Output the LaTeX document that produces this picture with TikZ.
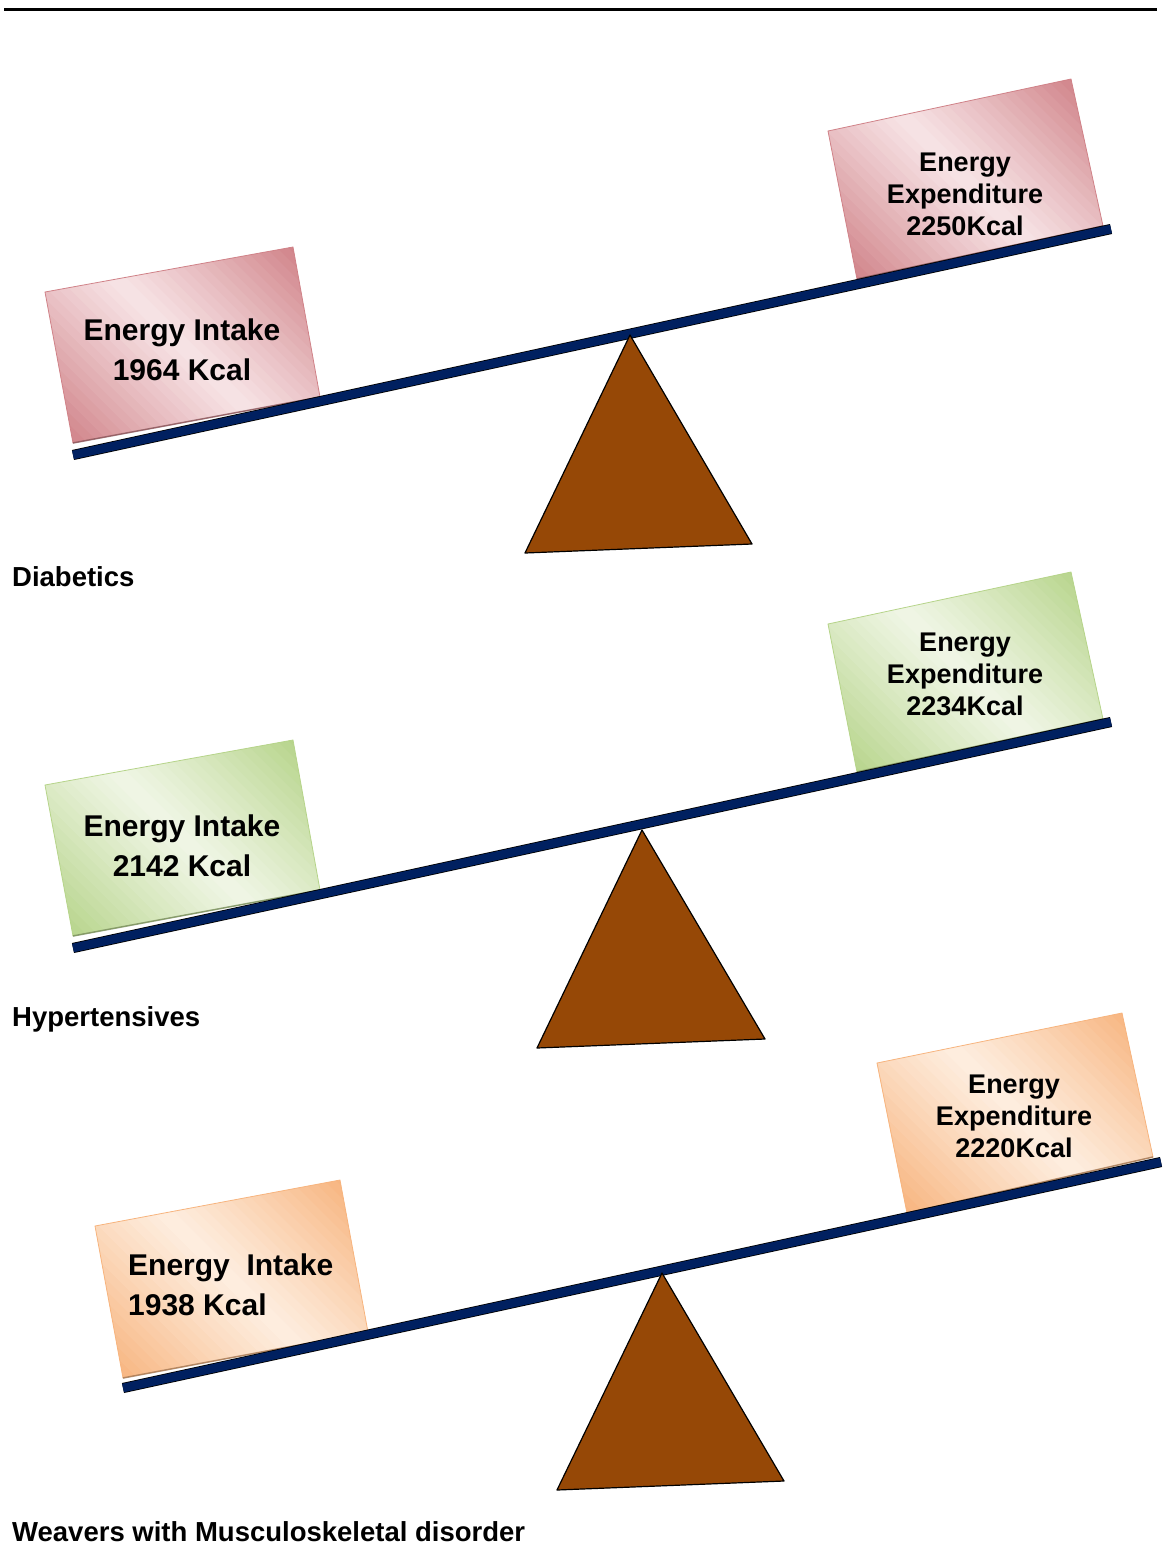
\documentclass[tikz,border=0pt]{standalone}
\usepackage{fontspec}
\setmainfont{Liberation Sans}
\usetikzlibrary{calc}

\definecolor{beamblue}{RGB}{0,32,96}
\definecolor{fulcrumbrown}{RGB}{150,72,6}
\definecolor{pinkdark}{RGB}{208,130,136}
\definecolor{pinklight}{RGB}{247,228,230}
\definecolor{greendark}{RGB}{182,212,138}
\definecolor{greenlight}{RGB}{240,246,230}
\definecolor{orangedark}{RGB}{247,180,126}
\definecolor{orangelight}{RGB}{254,238,224}

% box on the beam: #1 dark, #2 light, #3--#6 corners (tl, tr, br, bl)
\newcommand\gradbox[6]{%
  \begin{scope}
    \clip #3 -- #4 -- #5 -- #6 -- cycle;
    \coordinate (mid) at ($#3!0.5!#5$);
    \foreach \t in {-180,-172,...,180}{
      \pgfmathsetmacro\m{min(100,100*(abs(\t)/150)^1.1)}
      \fill[#1!\m!#2, shift={(mid)}, rotate=45] (\t-4.6,-250) rectangle (\t+4.6,250);
    }
  \end{scope}
  \draw[#1, line width=0.8pt] #3 -- #4 -- #5 -- #6 -- cycle;
  \draw[#1!55!black, line width=1.6pt, opacity=0.6] #5 -- #6;}

\begin{document}
\begin{tikzpicture}[x=1pt,y=1pt]
\tikzset{beam/.style={draw=black, line width=0.8pt, double=beamblue, double distance=8.6pt}}
\tikzset{fulcrum/.style={draw=black, line width=1.2pt, fill=fulcrumbrown, line join=round}}
\tikzset{intake/.style={font=\fontsize{30}{40}\selectfont\bfseries, align=center, inner sep=0pt}}
\tikzset{expend/.style={font=\fontsize{27}{32}\selectfont\bfseries, align=center, inner sep=0pt}}
\tikzset{group/.style={font=\fontsize{27.5}{33}\selectfont\bfseries, anchor=base west, inner sep=0pt}}
\useasboundingbox (0,0) rectangle (1163,-1545);
\draw[line width=3pt] (4,-9) -- (1157,-9);
% Diabetics
\gradbox{pinkdark}{pinklight}{(45,-292)}{(293,-247)}{(320,-397)}{(73,-443)}
\gradbox{pinkdark}{pinklight}{(828,-131)}{(1071,-79)}{(1103,-226)}{(857,-279)}
\draw[beam] (73,-455) -- (1111,-229);
\filldraw[fulcrum] (630,-335) -- (525,-553) -- (752,-544) -- cycle;
\node[intake] (intakeA) at (182,-350) {Energy Intake\\1964 Kcal};
\node[expend] (expendA) at (965,-194) {Energy\\Expenditure\\2250Kcal};
\node[group] (diabetics) at (12,-586) {Diabetics};
% Hypertensives
\gradbox{greendark}{greenlight}{(45,-785)}{(293,-740)}{(320,-890)}{(73,-936)}
\gradbox{greendark}{greenlight}{(828,-624)}{(1071,-572)}{(1103,-719)}{(857,-772)}
\draw[beam] (73,-948) -- (1111,-722);
\filldraw[fulcrum] (642,-830) -- (537,-1048) -- (765,-1039) -- cycle;
\node[intake] (intakeB) at (182,-846) {Energy Intake\\2142 Kcal};
\node[expend] (expendB) at (965,-674) {Energy\\Expenditure\\2234Kcal};
\node[group] (hypertensives) at (12,-1026) {Hypertensives};
% Weavers
\gradbox{orangedark}{orangelight}{(95,-1226)}{(340,-1180)}{(368,-1332)}{(123,-1378)}
\gradbox{orangedark}{orangelight}{(877,-1063)}{(1122,-1013)}{(1153,-1157)}{(907,-1213)}
\draw[beam] (123,-1388) -- (1161,-1162);
\filldraw[fulcrum] (662,-1273) -- (557,-1490) -- (784,-1481) -- cycle;
\node[intake, align=left, anchor=west] (intakeC) at (128,-1285) {Energy\ \ Intake\\1938 Kcal};
\node[expend] (expendC) at (1014,-1116) {Energy\\Expenditure\\2220Kcal};
\node[group] (weavers) at (12,-1541) {Weavers with Musculoskeletal disorder};
\end{tikzpicture}
\end{document}
